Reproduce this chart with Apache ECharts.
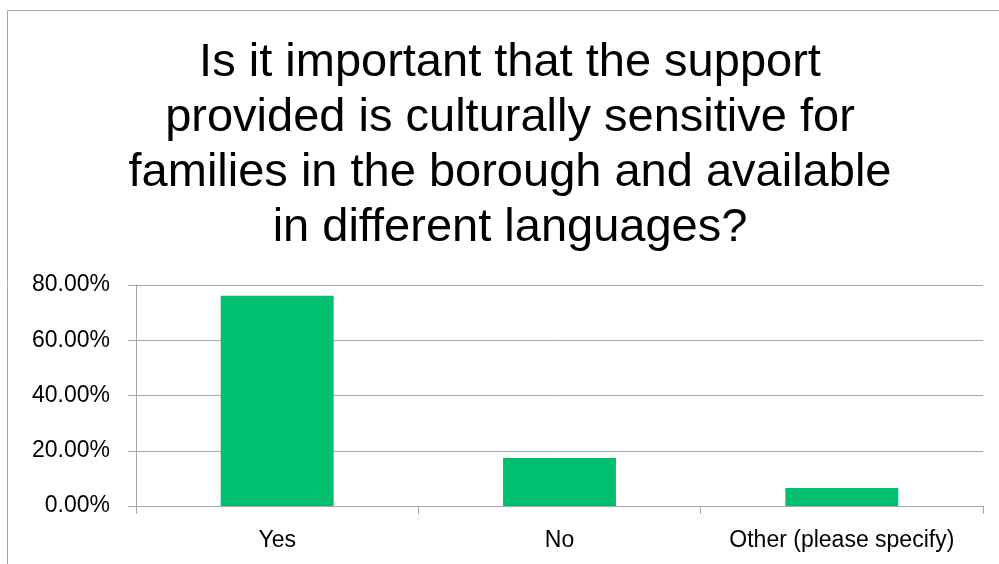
<!DOCTYPE html>
<html>
<head>
<meta charset="utf-8">
<script src="https://cdn.jsdelivr.net/npm/echarts@6/dist/echarts.min.js"></script>
<style>
  html, body { margin: 0; padding: 0; background: #ffffff; }
  #chart { width: 999px; height: 564px; }
</style>
</head>
<body>
<div id="chart"></div>
<script>
// Survey responses (share of respondents, %)
const categories = ['Yes', 'No', 'Other (please specify)'];
const shares = [76.09, 17.39, 6.52];
const yTicks = { min: 0, max: 80, interval: 20 };

const titleText = 'Is it important that the support\nprovided is culturally sensitive for\nfamilies in the borough and available\nin different languages?';

const axisGray = '#a6a6a6';
const fontFamily = '"Liberation Sans", Arial, sans-serif';

const chart = echarts.init(document.getElementById('chart'), null, { renderer: 'canvas' });

chart.setOption({
  backgroundColor: '#ffffff',
  animation: false,
  title: {
    text: titleText,
    left: 505,
    top: 31,
    textAlign: 'center',
    textStyle: {
      fontFamily: fontFamily,
      fontSize: 47,
      fontWeight: 'normal',
      color: '#000000',
      lineHeight: 55
    }
  },
  graphic: [
    {
      type: 'rect',
      shape: { x: 7.5, y: 10.5, width: 1200, height: 700 },
      style: { fill: 'none', stroke: '#a6a6a6', lineWidth: 1 },
      silent: true
    }
  ],
  grid: {
    left: 136,
    right: 16,
    top: 285,
    bottom: 58,
    containLabel: false
  },
  xAxis: {
    type: 'category',
    data: categories,
    boundaryGap: true,
    axisLine: { show: true, lineStyle: { color: axisGray, width: 1 } },
    axisTick: { show: true, length: 8, inside: false, lineStyle: { color: axisGray } },
    axisLabel: {
      margin: 23,
      fontFamily: fontFamily,
      fontSize: 23,
      color: '#000000',
      interval: 0
    },
    splitLine: { show: false }
  },
  yAxis: {
    type: 'value',
    min: yTicks.min,
    max: yTicks.max,
    interval: yTicks.interval,
    axisLine: { show: true, lineStyle: { color: axisGray, width: 1 } },
    axisTick: { show: true, length: 8, inside: false, lineStyle: { color: axisGray } },
    axisLabel: {
      margin: 26,
      fontFamily: fontFamily,
      fontSize: 23,
      color: '#000000',
      formatter: v => v.toFixed(2) + '%'
    },
    splitLine: { show: true, lineStyle: { color: axisGray, width: 1 } }
  },
  series: [
    {
      type: 'bar',
      data: shares,
      barWidth: '40%',
      itemStyle: { color: '#00c070' },
      label: { show: false }
    }
  ]
});
</script>
</body>
</html>
